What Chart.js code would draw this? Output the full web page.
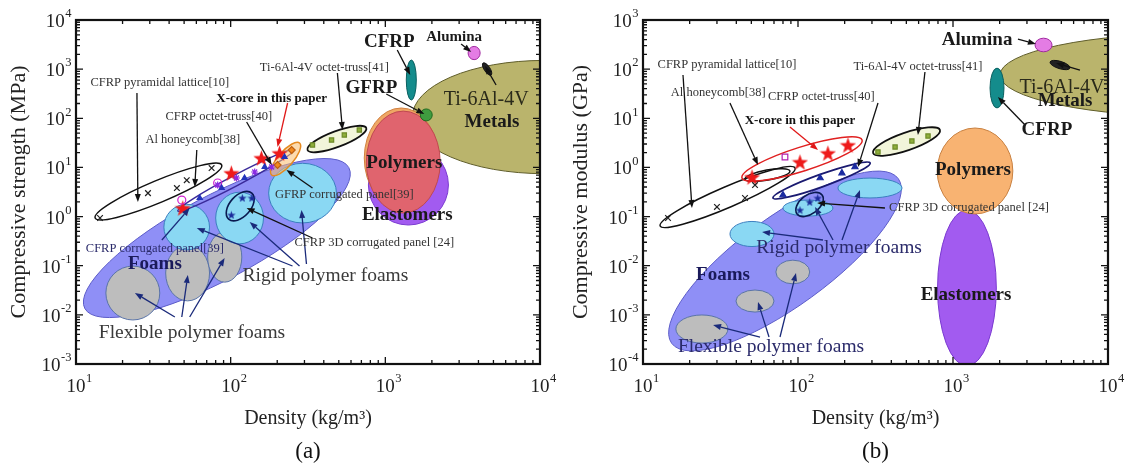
<!DOCTYPE html>
<html><head><meta charset="utf-8">
<script src="https://cdn.jsdelivr.net/npm/chart.js@4.4.0/dist/chart.umd.min.js"></script>
<style>
body{margin:0;background:#fff;width:1130px;height:469px;overflow:hidden;position:relative}
canvas{position:absolute;top:0}
</style></head>
<body>
<canvas id="ca" width="560" height="469" style="left:0"></canvas>
<canvas id="cb" width="565" height="469" style="left:565px"></canvas>
<script>
// ================= DATA =================
const xTickExp = [1, 2, 3, 4];
const yTickExpA = [-3, -2, -1, 0, 1, 2, 3, 4];
const yTickExpB = [-4, -3, -2, -1, 0, 1, 2, 3];

// Property regions: [styleKey, density1, value1, density2, value2, widthRatio]
// (two ends of the region's long axis, and its width relative to its length)
const regionsA = [
  ['foams', 11.4, 0.0135, 581, 9.9, 0.28],
  ['gray', 15.6, 0.0278, 34.8, 0.0278, 1.0],
  ['gray', 38, 0.071, 73, 0.071, 1.27],
  ['gray', 71, 0.150, 118, 0.150, 1.47],
  ['rigid', 37, 0.61, 73, 0.61, 1.0],
  ['rigid', 80, 0.935, 163, 0.935, 1.08],
  ['rigid', 176, 3.0, 483, 3.0, 0.88],
  ['cfrp3d', 97, 0.89, 137, 3.0, 0.6],
  ['outline', 13.3, 0.935, 87.5, 11.2, 0.16],
  ['octet', 45.5, 1.30, 255, 22.6, 0.08],
  ['gfrpCorr', 184, 7.0, 279, 31.4, 0.35],
  ['tiOctet', 314, 22.6, 753, 63.4, 0.25],
  ['metals', 1494, 106, 75300, 106, 0.43],
  ['elastomers', 1410, 28.6, 1410, 0.673, 1.0],
  ['polyHalo', 1268, 162, 1268, 1.49, 0.74],
  ['polymersA', 1306, 140, 1306, 1.18, 0.725],
  ['cfrp', 1472, 1535, 1472, 235, 0.25],
  ['alumina', 3428, 2128, 4102, 2128, 1.1],
  ['gfrp', 1682, 117, 2010, 117, 1.0],
  ['tiMark', 4285, 1334, 4830, 760, 0.4]
];
const regionsB = [
  ['foams', 15.3, 0.000264, 444, 0.590, 0.32],
  ['gray', 16.3, 0.000515, 35.3, 0.000515, 0.54],
  ['gray', 39.8, 0.00191, 70, 0.00191, 0.58],
  ['gray', 72, 0.00745, 119, 0.00745, 0.7],
  ['rigid', 181, 0.381, 469, 0.381, 0.31],
  ['rigid', 80, 0.149, 168, 0.149, 0.32],
  ['rigid', 36.4, 0.0442, 70, 0.0442, 0.57],
  ['cfrp3d', 98.6, 0.113, 143, 0.275, 0.6],
  ['outline', 12.9, 0.0643, 95.7, 0.973, 0.14],
  ['outline', 45.5, 0.581, 88.7, 0.845, 0.22],
  ['xcore', 43.5, 0.609, 259, 3.61, 0.19],
  ['octetB', 69, 0.239, 292, 1.23, 0.12],
  ['tiOctet', 305, 1.96, 824, 5.78, 0.25],
  ['elastomers', 1230, 0.136, 1230, 0.0000912, 0.377],
  ['polymersB', 1387, 6.34, 1387, 0.113, 0.88],
  ['metals', 2010, 76, 766000, 76, 0.21],
  ['cfrp', 1923, 105, 1923, 16.2, 0.35],
  ['alumina', 3381, 310, 4355, 310, 0.8],
  ['tiMark', 4227, 140, 5690, 105, 0.35]
];

// Measured points (density kg/m3, strength MPa) - panel (a)
const pyramidalA = [[14.3,0.935],[29.2,3.0],[44.9,3.8],[52,5.5],[75.3,9.7]];
const xcoreA = [[49,1.49],[101,7.7],[158,15.6],[207,19.6]];
const octetA = [[63.1,2.39],[87.5,3.81],[123,6.09],[166,10.2],[223,16.3]];
const octetA2 = [[82.4,4.39],[109,6.09],[143,8.07],[184,10.2]];
const honeycombA = [[48.3,2.17],[82.4,4.82]];
const gfrpCorrA = [[201,11.2],[248,22.6]];
const cfrp3dA = [[101,1.08],[119,2.4],[137,2.4]];
const tiOctetA = [[338,28.6],[449,36.1],[543,45.7],[679,57.8]];

// Measured points (density kg/m3, modulus GPa) - panel (b)
const pyramidalB = [[14.5,0.0935],[30,0.157],[45.5,0.239],[52.8,0.438]];
const xcoreB = [[50.5,0.638],[103,1.29],[156,1.96],[210,2.86]];
const honeycombB = [[82.4,1.63]];
const octetB = [[80,0.275],[139,0.609],[192,0.769],[233,1.02]];
const cfrp3dB = [[103,0.136],[119,0.198],[134,0.239]];
const tiOctetB = [[328,2.06],[423,2.60],[543,3.45],[690,4.36]];

// Annotations: text [text, log10 x, log10 y, styleKey]; arrows [log10 x1, log10 y1, log10 x2, log10 y2, color]
const textsA = [
  ['CFRP pyramidal lattice[10]', 1.542, 2.718, 'small'],
  ['Ti-6Al-4V octet-truss[41]', 2.606, 3.023, 'small'],
  ['X-core in this paper', 2.265, 2.392, 'xcore'],
  ['CFRP octet-truss[40]', 1.923, 2.026, 'small'],
  ['Al honeycomb[38]', 1.755, 1.558, 'small'],
  ['CFRP', 3.026, 3.552, 'big'],
  ['Alumina', 3.445, 3.654, 'alumA'],
  ['GFRP', 2.910, 2.616, 'big'],
  ['Ti-6Al-4V', 3.652, 2.372, 'ti'],
  ['Metals', 3.690, 1.924, 'big'],
  ['Polymers', 3.123, 1.090, 'big'],
  ['Elastomers', 3.142, 0.032, 'big'],
  ['GFRP corrugated panel[39]', 2.735, 0.439, 'small'],
  ['CFRP 3D corrugated panel [24]', 2.929, -0.538, 'small'],
  ['CFRP corrugated panel[39]', 1.510, -0.660, 'smallBlue'],
  ['Foams', 1.510, -0.965, 'foams'],
  ['Rigid polymer foams', 2.613, -1.210, 'large'],
  ['Flexible polymer foams', 1.750, -2.370, 'large']
];
const arrowsA = [
  [1.394, 2.514, 1.400, 0.296, '#111'],
  [1.781, 1.355, 1.768, 0.602, '#111'],
  [2.103, 1.924, 2.265, 1.049, '#111'],
  [2.368, 2.311, 2.303, 1.416, '#e01818'],
  [2.690, 2.921, 2.723, 1.762, '#111'],
  [3.077, 3.390, 3.161, 2.881, '#111'],
  [3.490, 3.512, 3.555, 3.349, '#111'],
  [3.006, 2.494, 3.252, 2.087, '#111'],
  [3.716, 2.677, 3.645, 3.064, '#111'],
  [2.529, 0.581, 2.361, 0.948, '#111'],
  [2.529, -0.436, 2.103, 0.174, '#111'],
  [1.555, -0.477, 1.735, 0.174, '#1a2a7a'],
  [2.400, -1.006, 1.781, -0.233, '#1a2a7a'],
  [2.445, -1.006, 2.123, -0.111, '#1a2a7a'],
  [2.490, -0.965, 2.458, 0.134, '#1a2a7a'],
  [1.639, -2.044, 1.381, -1.556, '#1a2a7a'],
  [1.684, -2.044, 1.723, -1.189, '#1a2a7a'],
  [1.735, -2.044, 1.961, -0.843, '#1a2a7a']
];
const textsB = [
  ['CFRP pyramidal lattice[10]', 1.542, 2.084, 'small'],
  ['Al honeycomb[38]', 1.485, 1.515, 'small'],
  ['CFRP octet-truss[40]', 2.150, 1.433, 'small'],
  ['X-core in this paper', 2.013, 0.945, 'xcore'],
  ['Ti-6Al-4V octet-truss[41]', 2.774, 2.044, 'small'],
  ['Alumina', 3.155, 2.593, 'big'],
  ['Ti-6Al-4V', 3.703, 1.616, 'ti'],
  ['Metals', 3.723, 1.352, 'big'],
  ['CFRP', 3.606, 0.762, 'big'],
  ['Polymers', 3.129, -0.052, 'big'],
  ['CFRP 3D corrugated panel [24]', 3.103, -0.826, 'small'],
  ['Rigid polymer foams', 2.265, -1.640, 'largeBlue'],
  ['Foams', 1.516, -2.189, 'foams'],
  ['Flexible polymer foams', 1.826, -3.654, 'largeBlue'],
  ['Elastomers', 3.084, -2.596, 'big']
];
const arrowsB = [
  [1.258, 1.881, 1.316, -0.826, '#111'],
  [1.561, 1.311, 1.742, 0.049, '#111'],
  [2.516, 1.311, 2.387, 0.009, '#111'],
  [1.948, 0.823, 2.129, 0.355, '#e01818'],
  [2.819, 1.942, 2.774, 0.660, '#111'],
  [3.419, 2.613, 3.535, 2.512, '#111'],
  [3.819, 1.982, 3.665, 2.125, '#111'],
  [3.465, 0.863, 3.290, 1.433, '#111'],
  [2.561, -0.826, 2.123, -0.724, '#111'],
  [2.161, -1.477, 1.768, -1.314, '#1a2a7a'],
  [2.226, -1.477, 2.110, -0.805, '#1a2a7a'],
  [2.284, -1.477, 2.400, -0.459, '#1a2a7a'],
  [1.755, -3.451, 1.452, -3.207, '#1a2a7a'],
  [1.813, -3.451, 1.742, -2.739, '#1a2a7a'],
  [1.884, -3.451, 1.987, -2.149, '#1a2a7a']
];

// ================= STYLES =================
const FONT = "'Liberation Serif','Times New Roman',serif";
const regionStyle = {
  foams: {fill:'#8f8ff6', stroke:'#5c5cc8', lw:1},
  gray: {fill:'#bdbdbd', stroke:'#5a74a8', lw:1},
  rigid: {fill:'#8ad8f3', stroke:'#3b7fc0', lw:1},
  cfrp3d: {stroke:'#0a1a50', lw:1.6},
  outline: {stroke:'#111', lw:1.5},
  octet: {stroke:'#3a2a9a', lw:1.5},
  octetB: {stroke:'#1a1a70', lw:1.8},
  xcore: {stroke:'#e02020', lw:1.5},
  gfrpCorr: {fill:'rgba(250,190,110,0.55)', stroke:'#e58a20', lw:1.5},
  tiOctet: {fill:'#f2f5da', stroke:'#111', lw:1.8},
  metals: {fill:'#bab46c', stroke:'#5f5d2a', lw:1},
  elastomers: {fill:'#a25bf0', stroke:'#7a3ad0', lw:1},
  polyHalo: {fill:'#efa765', stroke:'#d08040', lw:1},
  polymersA: {fill:'#e0646e', stroke:'#c04850', lw:1},
  polymersB: {fill:'#f8b372', stroke:'#c88040', lw:1},
  cfrp: {fill:'#148c8c', stroke:'#0a5f5f', lw:1},
  alumina: {fill:'#e47ce4', stroke:'#a02aa0', lw:1},
  gfrp: {fill:'#3f9b3f', stroke:'#1f6a1f', lw:1},
  tiMark: {fill:'#222', stroke:'#111', lw:1}
};
const textStyle = {
  small: {font:`12.5px ${FONT}`, color:'#333'},
  smallBlue: {font:`12.5px ${FONT}`, color:'#2a2a6a'},
  xcore: {font:`bold 13px ${FONT}`, color:'#111'},
  big: {font:`bold 19px ${FONT}`, color:'#1a1a1a'},
  alumA: {font:`bold 15px ${FONT}`, color:'#1a1a1a'},
  ti: {font:`20px ${FONT}`, color:'#2a2a1a'},
  foams: {font:`bold 19px ${FONT}`, color:'#1a1a5a'},
  large: {font:`19.5px ${FONT}`, color:'#3a3a3a'},
  largeBlue: {font:`19.5px ${FONT}`, color:'#2a2a6a'}
};

function starImg(size, color) {
  const c = document.createElement('canvas'); c.width = c.height = size;
  const g = c.getContext('2d'); g.fillStyle = color; g.beginPath();
  for (let i = 0; i < 10; i++) {
    const r = i % 2 ? size * 0.2 : size * 0.5;
    const a = -Math.PI / 2 + i * Math.PI / 5;
    g.lineTo(size / 2 + r * Math.cos(a), size / 2 + size * 0.05 + r * Math.sin(a));
  }
  g.closePath(); g.fill(); return c;
}
const redStar = starImg(17, '#ee1a1a');
const blueStar = starImg(9, '#1a2a9a');
const pts = arr => arr.map(p => ({x: p[0], y: p[1]}));
const ds = (arr, o) => Object.assign({data: pts(arr), pointRadius: 3.5, borderWidth: 1.2}, o);

// ================= DRAWING =================
function drawArrow(ctx, x1, y1, x2, y2, color) {
  const ang = Math.atan2(y2 - y1, x2 - x1), L = 8, W = 3;
  const bx = x2 - L * Math.cos(ang), by = y2 - L * Math.sin(ang);
  ctx.strokeStyle = color; ctx.fillStyle = color; ctx.lineWidth = 1.3;
  ctx.beginPath(); ctx.moveTo(x1, y1); ctx.lineTo(bx, by); ctx.stroke();
  ctx.beginPath(); ctx.moveTo(x2, y2);
  ctx.lineTo(bx + W * Math.sin(ang), by - W * Math.cos(ang));
  ctx.lineTo(bx - W * Math.sin(ang), by + W * Math.cos(ang));
  ctx.closePath(); ctx.fill();
}
function drawPow(ctx, exp, x, y, mode) {
  ctx.font = `19px ${FONT}`; const w1 = ctx.measureText('10').width;
  ctx.font = `12.5px ${FONT}`; const w2 = ctx.measureText(String(exp)).width;
  ctx.fillStyle = '#222'; ctx.textBaseline = 'middle'; ctx.textAlign = 'left';
  let x0 = mode === 'right' ? x - w1 - w2 : x - w1 / 2;
  ctx.font = `19px ${FONT}`; ctx.fillText('10', x0, y + 2);
  ctx.font = `12.5px ${FONT}`; ctx.fillText(String(exp), x0 + w1 + 0.5, y - 6);
}

function panelPlugin(P) {
  return {
    id: 'panel' + P.tag,
    beforeDatasetsDraw(chart) {
      const {ctx, chartArea: a, scales: {x, y}} = chart;
      ctx.save(); ctx.beginPath(); ctx.rect(a.left, a.top, a.right - a.left, a.bottom - a.top); ctx.clip();
      for (const r of P.regions) {
        const st = regionStyle[r[0]];
        const x1 = x.getPixelForValue(r[1]), y1 = y.getPixelForValue(r[2]);
        const x2 = x.getPixelForValue(r[3]), y2 = y.getPixelForValue(r[4]);
        const A = Math.hypot(x2 - x1, y2 - y1) / 2;
        ctx.beginPath();
        ctx.ellipse((x1 + x2) / 2, (y1 + y2) / 2, A, A * r[5], Math.atan2(y2 - y1, x2 - x1), 0, Math.PI * 2);
        if (st.fill) { ctx.fillStyle = st.fill; ctx.fill(); }
        if (st.stroke) { ctx.strokeStyle = st.stroke; ctx.lineWidth = st.lw; ctx.stroke(); }
      }
      ctx.restore();
    },
    afterDatasetsDraw(chart) {
      const {ctx, scales: {x, y}} = chart;
      ctx.save();
      for (const ar of P.arrows) {
        drawArrow(ctx, x.getPixelForValue(10 ** ar[0]), y.getPixelForValue(10 ** ar[1]),
          x.getPixelForValue(10 ** ar[2]), y.getPixelForValue(10 ** ar[3]), ar[4]);
      }
      ctx.textAlign = 'center'; ctx.textBaseline = 'middle';
      for (const t of P.texts) {
        const s = textStyle[t[3]];
        ctx.font = s.font; ctx.fillStyle = s.color;
        ctx.fillText(t[0], x.getPixelForValue(10 ** t[1]), y.getPixelForValue(10 ** t[2]));
      }
      ctx.restore();
    },
    afterDraw(chart) {
      const {ctx, chartArea: a, scales: {x, y}} = chart;
      ctx.save();
      ctx.strokeStyle = '#111'; ctx.lineWidth = 1.3;
      const ticks = (scale, horiz) => {
        const lo = Math.round(Math.log10(scale.min)), hi = Math.round(Math.log10(scale.max));
        for (let e = lo; e <= hi; e++) {
          for (let m = 1; m <= 9; m++) {
            const v = m * 10 ** e; if (v > scale.max * 1.0001) break;
            const p = scale.getPixelForValue(v), L = m === 1 ? 7 : 4;
            ctx.beginPath();
            if (horiz) { ctx.moveTo(p, a.bottom); ctx.lineTo(p, a.bottom - L); ctx.moveTo(p, a.top); ctx.lineTo(p, a.top + L); }
            else { ctx.moveTo(a.left, p); ctx.lineTo(a.left + L, p); ctx.moveTo(a.right, p); ctx.lineTo(a.right - L, p); }
            ctx.stroke();
          }
        }
      };
      ticks(x, true); ticks(y, false);
      ctx.lineWidth = 2.2; ctx.strokeRect(a.left, a.top, a.right - a.left, a.bottom - a.top);
      for (const e of xTickExp) drawPow(ctx, e, x.getPixelForValue(10 ** e), a.bottom + 21, 'center');
      for (const e of P.yTicks) drawPow(ctx, e, a.left - 5, y.getPixelForValue(10 ** e), 'right');
      ctx.font = `23px ${FONT}`; ctx.fillStyle = '#111'; ctx.textAlign = 'center'; ctx.textBaseline = 'middle';
      ctx.fillText(P.tag, (a.left + a.right) / 2, 452);
      ctx.restore();
    }
  };
}

function makeChart(id, P) {
  return new Chart(document.getElementById(id), {
    type: 'scatter',
    data: {datasets: P.datasets},
    options: {
      responsive: false, animation: false, devicePixelRatio: 1,
      layout: {padding: {left: 0, top: 20, right: P.padRight, bottom: 0}},
      plugins: {legend: {display: false}, tooltip: {enabled: false}},
      scales: {
        x: {type: 'logarithmic', min: 10, max: 10000, grid: {display: false}, border: {display: false},
            ticks: {display: false},
            title: {display: true, text: 'Density (kg/m³)', color: '#222', font: {family: FONT, size: 20}, padding: {top: 0, bottom: 38}},
            afterFit: s => { s.height = 105; }},
        y: {type: 'logarithmic', min: P.ymin, max: P.ymax, grid: {display: false}, border: {display: false},
            ticks: {display: false},
            title: {display: true, text: P.ytitle, color: '#222', font: {family: FONT, size: 22}, padding: {top: P.titlePad, bottom: 0}},
            afterFit: s => { s.width = P.yWidth; }}
      }
    },
    plugins: [panelPlugin(P)]
  });
}

makeChart('ca', {
  tag: '(a)', ymin: 1e-3, ymax: 1e4, padRight: 20, yWidth: 76, titlePad: 6,
  ytitle: 'Compressive strength (MPa)', yTicks: yTickExpA,
  regions: regionsA, texts: textsA, arrows: arrowsA,
  datasets: [
    ds(pyramidalA, {pointStyle: 'crossRot', pointRadius: 4, borderColor: '#222'}),
    ds(octetA, {pointStyle: 'triangle', pointRadius: 3, backgroundColor: '#2233bb', borderColor: '#2233bb'}),
    ds(octetA2, {pointStyle: 'star', pointRadius: 3.5, borderColor: '#8a2be2'}),
    ds(honeycombA, {pointStyle: 'circle', pointRadius: 4, backgroundColor: 'rgba(0,0,0,0)', borderColor: '#d020d0'}),
    ds(gfrpCorrA, {pointStyle: 'rectRot', pointRadius: 3.5, backgroundColor: '#f08a20', borderColor: '#c06010'}),
    ds(cfrp3dA, {pointStyle: blueStar}),
    ds(tiOctetA, {pointStyle: 'rect', pointRadius: 3, backgroundColor: '#8fae3a', borderColor: '#6d8a28'}),
    ds(xcoreA, {pointStyle: redStar})
  ]
});
makeChart('cb', {
  tag: '(b)', ymin: 1e-4, ymax: 1e3, padRight: 22, yWidth: 78, titlePad: 3,
  ytitle: 'Compressive modulus (GPa)', yTicks: yTickExpB,
  regions: regionsB, texts: textsB, arrows: arrowsB,
  datasets: [
    ds(pyramidalB, {pointStyle: 'crossRot', pointRadius: 4, borderColor: '#222'}),
    ds(octetB, {pointStyle: 'triangle', pointRadius: 3.5, backgroundColor: '#1a2aa0', borderColor: '#1a2aa0'}),
    ds(honeycombB, {pointStyle: 'rect', pointRadius: 4, backgroundColor: 'rgba(0,0,0,0)', borderColor: '#b020b0'}),
    ds(cfrp3dB, {pointStyle: blueStar}),
    ds(tiOctetB, {pointStyle: 'rect', pointRadius: 3, backgroundColor: '#8fae3a', borderColor: '#6d8a28'}),
    ds(xcoreB, {pointStyle: redStar})
  ]
});
</script>
</body></html>
